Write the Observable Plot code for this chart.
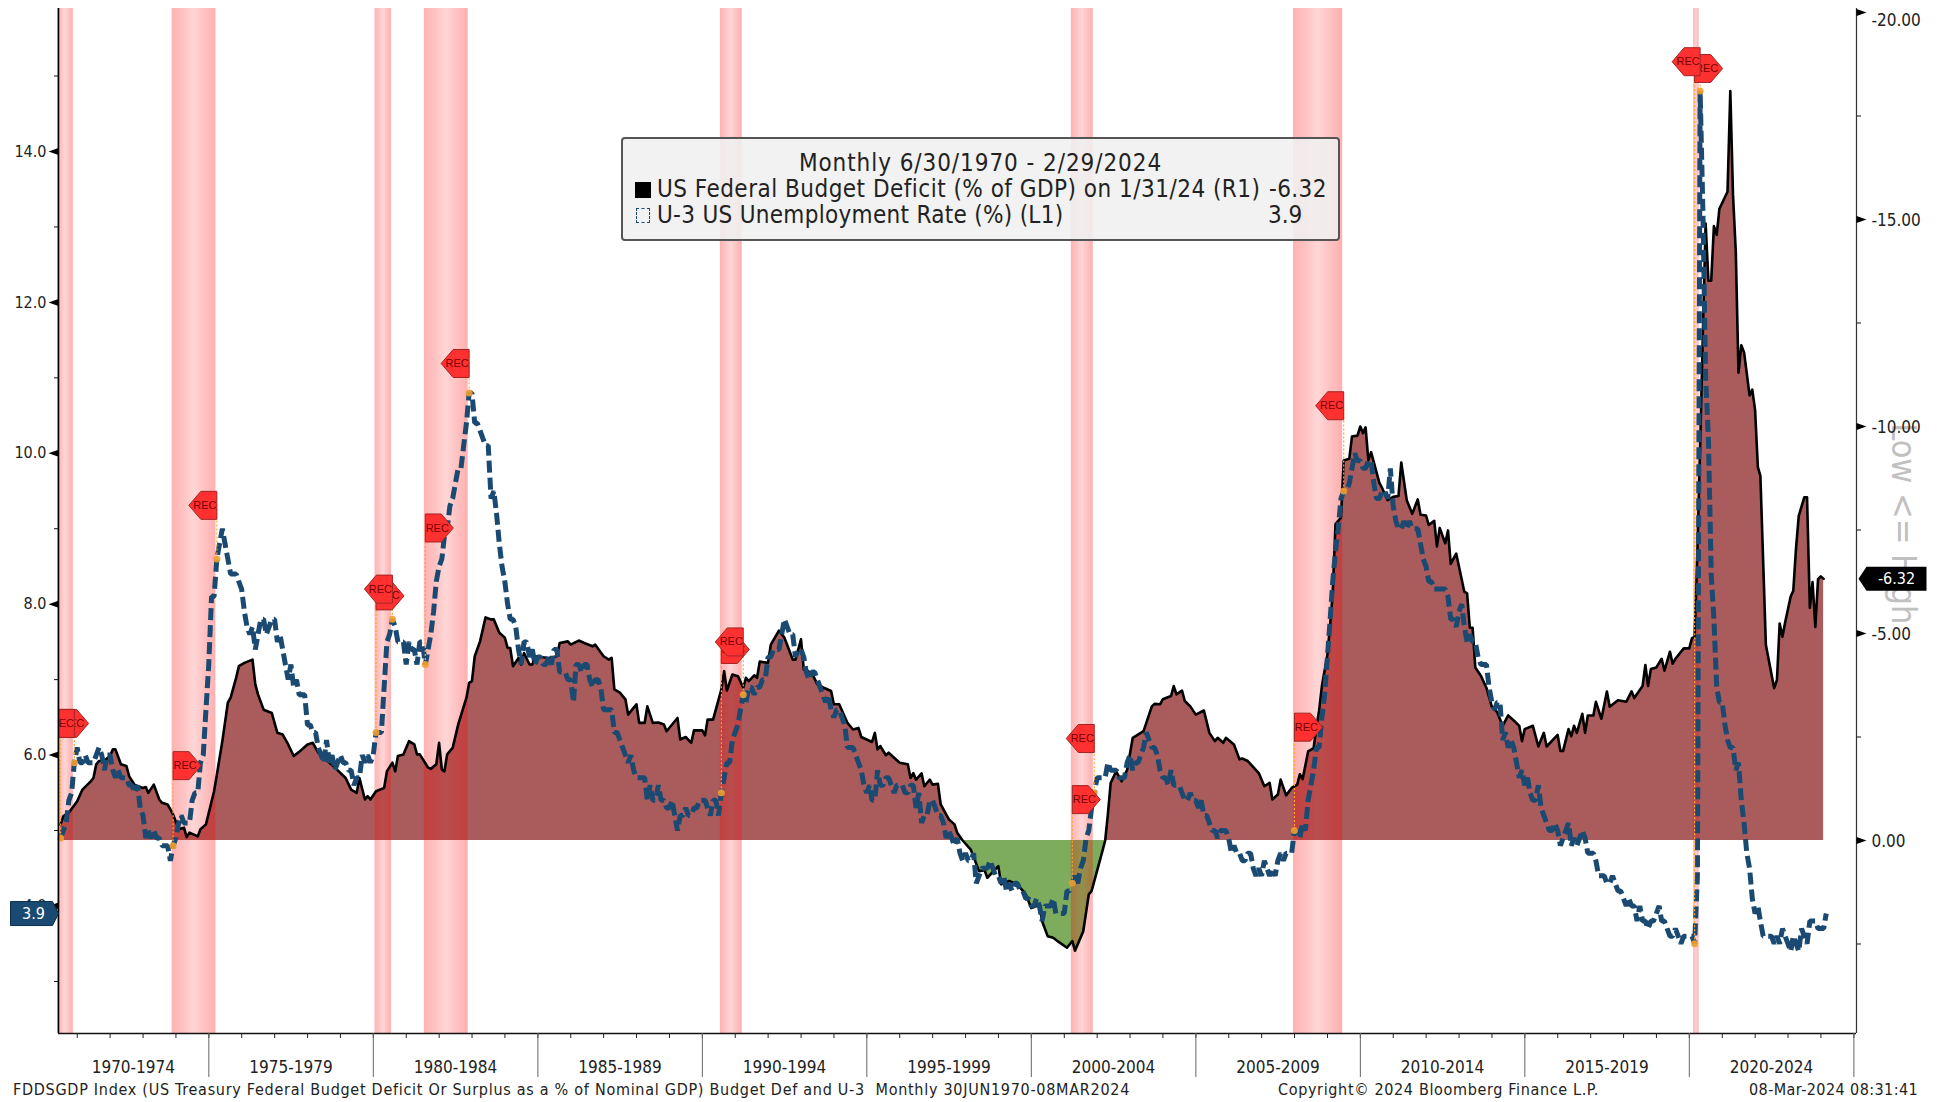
<!DOCTYPE html>
<html>
<head>
<meta charset="utf-8">
<script src="https://cdn.jsdelivr.net/npm/d3@7"></script>
<script src="https://cdn.jsdelivr.net/npm/@observablehq/plot@0.6"></script>
<style>
html,body{margin:0;padding:0;background:#fff}
#wrap{position:relative;width:1944px;height:1102px;overflow:hidden;font-family:"DejaVu Sans Condensed","DejaVu Sans",sans-serif;font-stretch:condensed;color:#222}
#wrap svg{display:block}
.abs{position:absolute;white-space:pre}
.lg{font-size:24px;line-height:26px}
.foot{font-size:16px;line-height:20px;top:1080px;color:#222}
</style>
</head>
<body>
<div id="wrap"></div>
<script>
// U-3 unemployment rate, monthly from Jun 1970 (left axis, %)
const u3Start = "1970-06";
const u3_1970s = [4.9,5.0,5.1,5.4,5.5,5.9,6.1,
 5.9,5.9,6.0,5.9,5.9,5.9,6.0,6.1,6.0,5.8,6.0,6.0,
 5.8,5.7,5.8,5.7,5.7,5.7,5.6,5.6,5.5,5.6,5.3,5.2,
 4.9,5.0,4.9,5.0,4.9,4.9,4.8,4.8,4.8,4.6,4.8,4.9,
 5.1,5.2,5.1,5.1,5.1,5.4,5.5,5.5,5.9,6.0,6.6,7.2,
 8.1,8.1,8.6,8.8,9.0,8.8,8.6,8.4,8.4,8.4,8.3,8.2,
 7.9,7.7,7.6,7.7,7.4,7.6,7.8,7.8,7.6,7.7,7.8,7.8,
 7.5,7.6,7.4,7.2,7.0,7.2,6.9,7.0,6.8,6.8,6.8,6.4,
 6.4,6.3,6.3,6.1,6.0,5.9,6.2,5.9,6.0,5.8,5.9,6.0,
 5.9,5.9,5.8,5.8,5.6,5.7,5.7,6.0,5.9,6.0,5.9,6.0];
const u3_1980s = [6.3,6.3,6.3,6.9,7.5,7.6,7.8,7.7,7.5,7.5,7.5,7.2,
 7.5,7.4,7.4,7.2,7.5,7.5,7.2,7.4,7.6,7.9,8.3,8.5,
 8.6,8.9,9.0,9.3,9.4,9.6,9.8,9.8,10.1,10.4,10.8,10.8,
 10.4,10.4,10.3,10.2,10.1,10.1,9.4,9.5,9.2,8.8,8.5,8.3,
 8.0,7.8,7.8,7.7,7.4,7.2,7.5,7.5,7.3,7.4,7.2,7.3,
 7.3,7.2,7.2,7.3,7.2,7.4,7.4,7.1,7.1,7.1,7.0,7.0,
 6.7,7.2,7.2,7.1,7.2,7.2,7.0,6.9,7.0,7.0,6.9,6.6,
 6.6,6.6,6.6,6.3,6.3,6.2,6.1,6.0,5.9,6.0,5.8,5.7,
 5.7,5.7,5.7,5.4,5.6,5.4,5.4,5.6,5.4,5.4,5.3,5.3,
 5.4,5.2,5.0,5.2,5.2,5.3,5.2,5.2,5.3,5.3,5.4,5.4];
const u3_1990s = [5.4,5.3,5.2,5.4,5.4,5.2,5.5,5.7,5.9,5.9,6.2,6.3,
 6.4,6.6,6.8,6.7,6.9,6.9,6.8,6.9,6.9,7.0,7.0,7.3,
 7.3,7.4,7.4,7.4,7.6,7.8,7.7,7.6,7.6,7.3,7.4,7.4,
 7.3,7.1,7.0,7.1,7.1,7.0,6.9,6.8,6.7,6.8,6.6,6.5,
 6.6,6.6,6.5,6.4,6.1,6.1,6.1,6.0,5.9,5.8,5.6,5.5,
 5.6,5.4,5.4,5.8,5.6,5.6,5.7,5.7,5.6,5.5,5.6,5.6,
 5.6,5.5,5.5,5.6,5.6,5.3,5.5,5.1,5.2,5.2,5.4,5.4,
 5.3,5.2,5.2,5.1,4.9,5.0,4.9,4.8,4.9,4.7,4.6,4.7,
 4.6,4.6,4.7,4.3,4.4,4.5,4.5,4.5,4.6,4.5,4.4,4.4,
 4.3,4.4,4.2,4.3,4.2,4.3,4.3,4.2,4.2,4.1,4.1,4.0];
const u3_2000s = [4.0,4.1,4.0,3.8,4.0,4.0,4.0,4.1,3.9,3.9,3.9,3.9,
 4.2,4.2,4.3,4.4,4.3,4.5,4.6,4.9,5.0,5.3,5.5,5.7,
 5.7,5.7,5.7,5.9,5.8,5.8,5.8,5.7,5.7,5.7,5.9,6.0,
 5.8,5.9,5.9,6.0,6.1,6.3,6.2,6.1,6.1,6.0,5.8,5.7,
 5.7,5.6,5.8,5.6,5.6,5.6,5.5,5.4,5.4,5.5,5.4,5.4,
 5.3,5.4,5.2,5.2,5.1,5.0,5.0,4.9,5.0,5.0,5.0,4.9,
 4.7,4.8,4.7,4.7,4.6,4.6,4.7,4.7,4.5,4.4,4.5,4.4,
 4.6,4.5,4.4,4.5,4.4,4.6,4.7,4.6,4.7,4.7,4.7,5.0,
 5.0,4.9,5.1,5.0,5.4,5.6,5.8,6.1,6.1,6.5,6.8,7.3,
 7.8,8.3,8.7,9.0,9.4,9.5,9.5,9.6,9.8,10.0,9.9,9.9];
const u3_2010s = [9.8,9.8,9.9,9.9,9.6,9.4,9.4,9.5,9.5,9.4,9.8,9.3,
 9.1,9.0,9.0,9.1,9.0,9.1,9.0,9.0,9.0,8.8,8.6,8.5,
 8.3,8.3,8.2,8.2,8.2,8.2,8.2,8.1,7.8,7.8,7.7,7.9,
 8.0,7.7,7.5,7.6,7.5,7.5,7.3,7.2,7.2,7.2,6.9,6.7,
 6.6,6.7,6.7,6.2,6.3,6.1,6.2,6.1,5.9,5.7,5.8,5.6,
 5.7,5.5,5.4,5.4,5.6,5.3,5.2,5.1,5.0,5.0,5.1,5.0,
 4.8,4.9,5.0,5.1,4.8,4.9,4.8,4.9,5.0,4.9,4.7,4.7,
 4.7,4.6,4.4,4.4,4.4,4.3,4.3,4.4,4.3,4.2,4.2,4.1,
 4.0,4.1,4.0,4.0,3.8,4.0,3.8,3.8,3.7,3.8,3.8,3.9,
 4.0,3.8,3.8,3.7,3.6,3.6,3.7,3.6,3.5,3.6,3.6,3.6];
const u3_2020s = [3.6,3.5,4.4,14.8,13.2,11.0,10.2,8.4,7.8,6.9,6.7,6.7,
 6.4,6.2,6.1,6.1,5.8,5.9,5.4,5.1,4.7,4.5,4.1,3.9,
 4.0,3.8,3.6,3.6,3.6,3.6,3.5,3.6,3.5,3.7,3.6,3.5,
 3.4,3.6,3.5,3.4,3.7,3.6,3.5,3.8,3.8,3.8,3.7,3.7,
 3.7,3.9];

// US federal budget balance, % of GDP (right axis): [month, value]
const deficit1970s = [["1970-06",-.39],["1970-07",-.59],["1970-09",-.67],["1970-12",-.95],["1971-02",-1.23],["1971-05",-1.43],["1971-06",-1.51],["1971-07",-1.84],["1971-08",-1.92],["1971-10",-1.93],["1971-12",-2.04],["1972-01",-2.2],["1972-02",-2.2],["1972-04",-1.84],["1972-06",-1.8],["1972-07",-1.55],["1972-09",-1.34],["1972-12",-1.27],["1973-01",-1.29],["1973-02",-1.15],["1973-04",-1.35],["1973-06",-.99],["1973-07",-.91],["1973-09",-.87],["1973-11",-.63],["1974-01",-.27],["1974-03",-.31],["1974-04",-.08],["1974-05",-.19],["1974-08",-.1],["1974-09",-.27],["1974-11",-.39],["1975-02",-1.19],["1975-03",-1.59],["1975-05",-2.4],["1975-07",-3.33],["1975-08",-3.45],["1975-10",-3.93],["1975-11",-4.21],["1976-01",-4.29],["1976-04",-4.37],["1976-05",-3.77],["1976-06",-3.53],["1976-08",-3.16],["1976-11",-3.08],["1977-01",-2.6],["1977-03",-2.56],["1977-05",-2.32],["1977-07",-2.04],["1977-09",-2.14],["1977-12",-2.32],["1978-02",-2.36],["1978-04",-2.12],["1978-06",-2.0],["1978-10",-1.76],["1979-02",-1.51],["1979-04",-1.23],["1979-06",-1.15],["1979-07",-1.51],["1979-09",-.99],["1979-10",-1.07],["1979-11",-.99]];
const deficit1980s = [["1980-01",-1.19],["1980-04",-1.27],["1980-05",-1.67],["1980-07",-1.88],["1980-08",-1.67],["1980-09",-2.04],["1980-11",-2.08],["1981-01",-2.4],["1981-03",-2.32],["1981-04",-2.08],["1981-05",-2.08],["1981-08",-1.76],["1981-09",-1.73],["1981-11",-1.84],["1981-12",-2.36],["1982-01",-1.71],["1982-02",-1.67],["1982-03",-2.08],["1982-05",-2.24],["1982-07",-2.8],["1982-10",-3.45],["1982-11",-3.81],["1982-12",-3.85],["1983-01",-4.45],["1983-03",-4.81],["1983-05",-5.39],["1983-07",-5.34],["1983-08",-5.34],["1983-10",-5.02],["1983-12",-4.9],["1984-01",-4.65],["1984-02",-4.65],["1984-03",-4.21],["1984-05",-4.41],["1984-06",-4.25],["1984-07",-4.53],["1984-09",-4.25],["1984-10",-4.25],["1984-11",-4.45],["1985-04",-4.41],["1985-07",-4.45],["1985-08",-4.77],["1985-11",-4.81],["1985-12",-4.73],["1986-03",-4.83],["1986-05",-4.77],["1986-08",-4.69],["1986-09",-4.73],["1986-12",-4.45],["1987-02",-4.37],["1987-03",-4.41],["1987-04",-3.65],["1987-06",-3.57],["1987-08",-3.41],["1987-09",-3.04],["1987-12",-3.29],["1988-01",-2.84],["1988-03",-2.84],["1988-04",-3.24],["1988-06",-2.84],["1988-08",-2.85],["1988-10",-2.8],["1988-11",-2.64],["1989-03",-2.96],["1989-04",-2.44],["1989-06",-2.5],["1989-08",-2.36],["1989-09",-2.66],["1989-12",-2.66]];
const deficit1990s = [["1990-01",-2.54],["1990-02",-2.92],["1990-04",-2.92],["1990-07",-3.65],["1990-08",-4.09],["1990-09",-3.62],["1990-11",-4.01],["1991-01",-3.97],["1991-03",-3.69],["1991-04",-3.93],["1991-05",-3.85],["1991-07",-3.99],["1991-08",-3.93],["1991-09",-4.32],["1991-12",-4.29],["1992-01",-4.73],["1992-04",-5.07],["1992-06",-4.9],["1992-09",-4.37],["1992-10",-4.37],["1992-12",-4.86],["1993-01",-4.13],["1993-04",-4.05],["1993-06",-3.77],["1993-09",-3.67],["1993-11",-3.61],["1993-12",-3.29],["1994-02",-3.29],["1994-05",-2.84],["1994-07",-2.68],["1994-09",-2.72],["1994-10",-2.5],["1995-02",-2.38],["1995-03",-2.6],["1995-04",-2.2],["1995-05",-2.28],["1995-07",-2.06],["1995-08",-2.12],["1995-12",-1.88],["1996-03",-1.84],["1996-04",-1.51],["1996-05",-1.63],["1996-06",-1.47],["1996-08",-1.62],["1996-09",-1.31],["1996-11",-1.47],["1996-12",-1.35],["1997-02",-1.37],["1997-03",-.87],["1997-06",-.51],["1997-08",-.39],["1997-09",-.19],["1997-11",0],["1998-02",.22],["1998-05",.74],["1998-07",.72],["1998-08",.9],["1998-12",.62],["1999-01",1.06],["1999-04",.98],["1999-07",1.06],["1999-10",1.3],["1999-12",1.63]];
const deficit2000s = [["2000-03",1.56],["2000-04",1.95],["2000-06",2.31],["2000-08",2.35],["2000-10",2.45],["2001-01",2.59],["2001-03",2.43],["2001-04",2.66],["2001-07",2.19],["2001-09",1.3],["2001-10",1.22],["2001-11",.98],["2002-02",.26],["2002-03",0],["2002-04",-.63],["2002-05",-1.39],["2002-07",-1.67],["2002-09",-1.43],["2002-11",-1.71],["2003-01",-2.48],["2003-05",-2.64],["2003-08",-3.24],["2003-09",-3.3],["2003-11",-3.29],["2003-12",-3.41],["2004-03",-3.49],["2004-04",-3.73],["2004-05",-3.53],["2004-07",-3.62],["2004-08",-3.37],["2004-10",-3.24],["2004-12",-3.04],["2005-03",-3.14],["2005-05",-2.6],["2005-07",-2.4],["2005-08",-2.48],["2005-10",-2.36],["2005-11",-2.48],["2006-02",-2.32],["2006-04",-1.96],["2006-05",-1.98],["2006-07",-1.92],["2006-11",-1.63],["2007-01",-1.31],["2007-03",-1.39],["2007-04",-.99],["2007-06",-1.11],["2007-07",-1.47],["2007-09",-1.09],["2007-11",-1.27],["2008-01",-1.35],["2008-02",-1.6],["2008-03",-1.48],["2008-05",-2.15],["2008-07",-2.23],["2008-08",-2.73],["2008-09",-3.14],["2008-10",-3.73],["2008-12",-4.48],["2009-01",-5.22],["2009-02",-5.97],["2009-03",-7.64],["2009-05",-7.8],["2009-06",-9.18],["2009-08",-9.22],["2009-09",-9.76],["2009-11",-9.78],["2009-12",-10.0]];
const deficit2010s = [["2010-01",-9.84],["2010-02",-9.98],["2010-03",-9.18],["2010-04",-9.38],["2010-07",-8.64],["2010-08",-8.51],["2010-10",-8.22],["2010-12",-8.3],["2011-02",-8.32],["2011-03",-9.13],["2011-05",-8.22],["2011-07",-7.89],["2011-09",-8.24],["2011-10",-7.87],["2011-12",-7.85],["2012-01",-7.62],["2012-03",-7.72],["2012-04",-7.1],["2012-05",-7.55],["2012-07",-7.18],["2012-08",-7.49],["2012-09",-6.68],["2012-11",-6.93],["2013-02",-6.01],["2013-03",-5.97],["2013-04",-5.14],["2013-05",-5.14],["2013-06",-4.18],["2013-08",-3.98],["2013-10",-3.69],["2013-12",-3.23],["2014-02",-3.1],["2014-04",-2.77],["2014-06",-3.02],["2014-08",-2.9],["2014-10",-2.77],["2014-11",-2.4],["2014-12",-2.69],["2015-03",-2.77],["2015-05",-2.27],["2015-07",-2.6],["2015-08",-2.27],["2015-12",-2.55],["2016-01",-2.16],["2016-02",-2.16],["2016-04",-2.69],["2016-05",-2.52],["2016-06",-2.77],["2016-07",-2.6],["2016-09",-3.06],["2016-10",-2.6],["2016-11",-3.02],["2017-01",-3.02],["2017-02",-3.35],["2017-04",-2.94],["2017-06",-3.6],["2017-07",-3.23],["2017-10",-3.39],["2018-01",-3.35],["2018-03",-3.6],["2018-04",-3.44],["2018-07",-3.73],["2018-08",-4.24],["2018-09",-3.73],["2018-10",-4.14],["2018-12",-4.18],["2019-02",-4.39],["2019-03",-4.1],["2019-05",-4.56],["2019-06",-4.27],["2019-07",-4.39],["2019-10",-4.64],["2019-12",-4.64]];
const deficit2020s = [["2020-01",-4.89],["2020-02",-4.92],["2020-03",-7.0],["2020-04",-9.5],["2020-05",-12.3],["2020-06",-14.9],["2020-07",-13.52],["2020-08",-13.52],["2020-09",-14.84],["2020-10",-14.63],["2020-11",-15.26],["2021-02",-15.67],["2021-03",-18.1],["2021-04",-15.6],["2021-05",-14.22],["2021-06",-11.3],["2021-07",-11.96],["2021-08",-11.79],["2021-10",-10.75],["2021-11",-10.89],["2021-12",-10.4],["2022-01",-9.02],["2022-02",-8.81],["2022-04",-4.72],["2022-07",-3.68],["2022-08",-3.88],["2022-09",-5.24],["2022-10",-4.92],["2022-11",-5.27],["2023-01",-5.9],["2023-02",-6.03],["2023-03",-7.07],["2023-04",-7.84],["2023-06",-8.29],["2023-07",-8.29],["2023-08",-5.62],["2023-09",-6.24],["2023-10",-5.16],["2023-11",-6.31],["2023-12",-6.38],["2024-01",-6.32]];

// recessions: start month, end month, flag heights on the left axis
const recStart = ["1970-06","1973-11","1980-01","1981-07","1990-07","2001-03","2007-12","2020-02"];
const recEnd   = ["1970-11","1975-03","1980-07","1982-11","1991-03","2001-11","2009-06","2020-04"];
const flagStartY = [6.42,5.86,8.11,9.01,7.40,5.41,6.37,15.10];
const flagEndY   = [6.42,9.31,8.20,11.19,7.50,6.22,10.63,15.19];

// axes
const leftLabelTicks = [4,6,8,10,12,14];
const leftMinorTicks = [3,5,7,9,11,13,15];
const rightLabelTicks = [-20,-15,-10,-5,0];
const rightMinorTicks = [-17.5,-12.5,-7.5,-2.5,2.5];
const periodLabels = ["1970-1974","1975-1979","1980-1984","1985-1989","1990-1994","1995-1999","2000-2004","2005-2009","2010-2014","2015-2019","2020-2024"];
const periodCentres = ["1972-09-15","1977-07-01","1982-07-01","1987-07-01","1992-07-01","1997-07-01","2002-07-01","2007-07-01","2012-07-01","2017-07-01","2022-07-01"];

const monthEnd = s => { const [y,m] = s.split("-").map(Number); return new Date(Date.UTC(y,m,0)); };

const u3All = [...u3_1970s,...u3_1980s,...u3_1990s,...u3_2000s,...u3_2010s,...u3_2020s];
const [u3y,u3m] = u3Start.split("-").map(Number);
const u3 = u3All.map((v,i)=>({date:new Date(Date.UTC(u3y,u3m+i,0)),v}));
const u3At = date => u3.find(d=>+d.date===+date).v;
const deficit = [...deficit1970s,...deficit1980s,...deficit1990s,...deficit2000s,...deficit2010s,...deficit2020s].map(([m,v])=>({date:monthEnd(m),v}));

// right axis expressed on the left scale
const toLeft = d3.scaleLinear().domain([0,-20]).range([4.868,15.842]);

const xDomain = [new Date("1970-06-07"), new Date("2025-01-30")];
const yDomain = [2.31,15.895];
const xEnd = xDomain[1], xStart = xDomain[0];

const recs = recStart.map((s,i)=>{
  const a = monthEnd(s), b = monthEnd(recEnd[i]);
  return {a,b,ya:flagStartY[i],yb:flagEndY[i],ua:u3At(a),ub:u3At(b),first:i===0};
});

const symPath = pts => ({draw(c){pts.forEach(([x,y],i)=> i? c.lineTo(x,y):c.moveTo(x,y)); c.closePath();}});
const flagRight = symPath([[0,-14],[16,-14],[28,0],[16,14],[0,14]]);
const flagLeft  = symPath([[0,-14],[-16,-14],[-28,0],[-16,14],[0,14]]);
const triLeft   = symPath([[0,-3.5],[0,3.5],[-10,0]]);
const triRight  = symPath([[0,-3.5],[0,3.5],[10,0]]);
const tagRight  = symPath([[0,0],[-6,-12],[-48,-12],[-48,12],[-6,12]]);
const tagLeft   = symPath([[2,0],[10,-12],[70,-12],[70,12],[10,12]]);

const defs = () => {
  const d = d3.create("svg:defs");
  const g = d.append("linearGradient").attr("id","bandGrad").attr("x1",0).attr("x2",1).attr("y1",0).attr("y2",0);
  [[0,.3],[.25,.24],[.5,.16],[.75,.24],[1,.31]].forEach(([o,a])=>g.append("stop").attr("offset",o).attr("stop-color","#ff0000").attr("stop-opacity",a));
  return d.node();
};

const NAVY = "#1a4a72";
const chart = Plot.plot({
  width:1944, height:1102,
  marginTop:8, marginBottom:69, marginLeft:58, marginRight:88,
  x:{type:"utc",domain:xDomain,axis:null},
  y:{domain:yDomain,axis:null},
  style:{fontFamily:'"DejaVu Sans Condensed","DejaVu Sans",sans-serif',fontStretch:"condensed",fontSize:"17px",color:"#222",background:"#fff",overflow:"visible"},
  marks:[
    defs,
    // fills
    Plot.areaY(deficit,{x:"date",y1:()=>toLeft(0),y2:d=>toLeft(Math.min(d.v,0)),fill:"#aa5c5c"}),
    Plot.areaY(deficit,{x:"date",y1:()=>toLeft(0),y2:d=>toLeft(Math.max(d.v,0)),fill:"#7dac5c"}),
    // recession bands
    Plot.rect(recs,{x1:d=>d.first?xStart:d.a,x2:"b",fill:"url(#bandGrad)",dx:-1}),
    // series
    Plot.line(deficit,{x:"date",y:d=>toLeft(d.v),stroke:"#000",strokeWidth:2.6}),
    Plot.line(u3,{x:"date",y:"v",stroke:NAVY,strokeWidth:5,strokeDasharray:"12,5",strokeLinejoin:"miter",strokeLinecap:"butt"}),
    // recession connectors and dots
    Plot.ruleX(recs,{x:"a",y1:"ua",y2:"ya",stroke:"#ffa630",strokeWidth:1.2,strokeDasharray:"2,2"}),
    Plot.ruleX(recs,{x:"b",y1:"ub",y2:"yb",stroke:"#ffa630",strokeWidth:1.2,strokeDasharray:"2,2"}),
    Plot.dot(recs,{x:"a",y:"ua",r:3.5,fill:"#f0a030",fillOpacity:.9}),
    Plot.dot(recs,{x:"b",y:"ub",r:3.5,fill:"#f0a030",fillOpacity:.9}),
    // flags
    Plot.dot(recs,{x:"a",y:"ya",symbol:flagRight,fill:"#ff3030",stroke:"#a02525",strokeWidth:1,clip:"frame"}),
    Plot.text(recs,{x:"a",y:"ya",text:()=>"REC",dx:12,fontSize:11,fill:"#7a0000",fontFamily:"Liberation Sans",clip:"frame"}),
    Plot.dot(recs,{x:"b",y:"yb",symbol:flagLeft,fill:"#ff3030",stroke:"#a02525",strokeWidth:1,clip:"frame"}),
    Plot.text(recs,{x:"b",y:"yb",text:()=>"REC",dx:-12,fontSize:11,fill:"#7a0000",fontFamily:"Liberation Sans",clip:"frame"}),
    // frame lines
    Plot.ruleX([xStart],{stroke:"#000",strokeWidth:1.6}),
    Plot.ruleX([xEnd],{stroke:"#333",strokeWidth:1.2}),
    Plot.ruleY([yDomain[0]],{stroke:"#111",strokeWidth:1.6}),
    // x axis
    Plot.axisX(d3.utcYears(new Date("1971-01-01"),new Date("2025-01-02")),{anchor:"bottom",tickSize:5,tickFormat:()=>"",label:null,stroke:"#222"}),
    Plot.axisX(d3.utcYear.every(5).range(new Date("1975-01-01"),new Date("2025-01-02")),{anchor:"bottom",tickSize:44,tickFormat:()=>"",label:null,stroke:"#666"}),
    Plot.axisX(periodCentres.map(d=>new Date(d)),{anchor:"bottom",tickSize:0,tickPadding:27,tickFormat:(d,i)=>periodLabels[i],label:null,fontSize:17,textStroke:"none"}),
    // left axis
    Plot.axisY(leftMinorTicks,{anchor:"left",tickSize:4,tickFormat:()=>"",label:null,stroke:"#111"}),
    Plot.dot(leftLabelTicks,{x:()=>xStart,y:d=>d,symbol:triLeft,fill:"#000",stroke:"none"}),
    Plot.axisY(leftLabelTicks,{anchor:"left",tickSize:0,tickPadding:12,tickFormat:d=>d.toFixed(1),label:null,fontSize:16}),
    // right axis
    Plot.axisY(rightMinorTicks.map(d=>toLeft(d)),{anchor:"right",tickSize:4,tickFormat:()=>"",label:null,stroke:"#111"}),
    Plot.dot(rightLabelTicks,{x:()=>xEnd,y:d=>toLeft(d),symbol:triRight,fill:"#000",stroke:"none"}),
    // direction watermark
    Plot.text(["Low <= High"],{x:()=>xEnd,y:()=>toLeft(-7.65),dx:46,rotate:90,fontSize:34,fill:"#c0c0c0",fontFamily:'"DejaVu Sans Condensed","DejaVu Sans"'}),
    Plot.axisY(rightLabelTicks.slice(1).map(d=>toLeft(d)),{anchor:"right",tickSize:0,tickPadding:15,dy:1,tickFormat:d=>toLeft.invert(d).toFixed(2),label:null,fontSize:17}),
    Plot.axisY([toLeft(-20)],{anchor:"right",tickSize:0,tickPadding:15,dy:8,tickFormat:d=>toLeft.invert(d).toFixed(2),label:null,fontSize:17}),
    // last-value tags
    Plot.dot([u3All[u3All.length-1]],{x:()=>xStart,y:d=>d,symbol:tagRight,fill:NAVY,stroke:"#0d2f4d",strokeWidth:1}),
    Plot.text([u3All[u3All.length-1]],{x:()=>xStart,y:d=>d,dx:-25,text:d=>d.toFixed(1),fill:"#fff",fontSize:16}),
    Plot.dot([deficit[deficit.length-1].v],{x:()=>xEnd,y:d=>toLeft(d),symbol:tagLeft,fill:"#000",stroke:"none"}),
    Plot.text([deficit[deficit.length-1].v],{x:()=>xEnd,y:d=>toLeft(d),dx:40,text:d=>d.toFixed(2),fill:"#fff",fontSize:16})
  ]
});

const wrap = document.getElementById("wrap");
wrap.appendChild(chart);

const add = (cls,css,html)=>{const e=document.createElement("div");e.className="abs "+cls;e.style.cssText=css;e.innerHTML=html;wrap.appendChild(e);return e;};
add("","left:621px;top:137px;width:715px;height:100px;border:2px solid #555;border-radius:4px;background:rgba(240,240,240,.88)","");
add("lg","left:621px;width:719px;text-align:center;top:150px;letter-spacing:.93px","Monthly 6/30/1970 - 2/29/2024");
add("","left:635px;top:182px;width:16px;height:16px;background:#000","");
add("lg","left:657px;top:176px;letter-spacing:.48px","US Federal Budget Deficit (% of GDP) on 1/31/24 (R1)");
add("lg","left:1269px;top:176px;letter-spacing:.4px","-6.32");
add("","left:636px;top:208px;width:12px;height:13px;border:1.5px dashed "+NAVY,"");
add("lg","left:657px;top:202px;letter-spacing:.3px","U-3 US Unemployment Rate (%) (L1)");
add("lg","left:1268px;top:202px","3.9");
add("foot","left:13px;letter-spacing:.72px","FDDSGDP Index (US Treasury Federal Budget Deficit Or Surplus as a % of Nominal GDP) Budget Def and U-3  Monthly 30JUN1970-08MAR2024");
add("foot","left:1278px;letter-spacing:.65px","Copyright© 2024 Bloomberg Finance L.P.");
add("foot","left:1749px;letter-spacing:.42px","08-Mar-2024 08:31:41");
</script>
</body>
</html>
